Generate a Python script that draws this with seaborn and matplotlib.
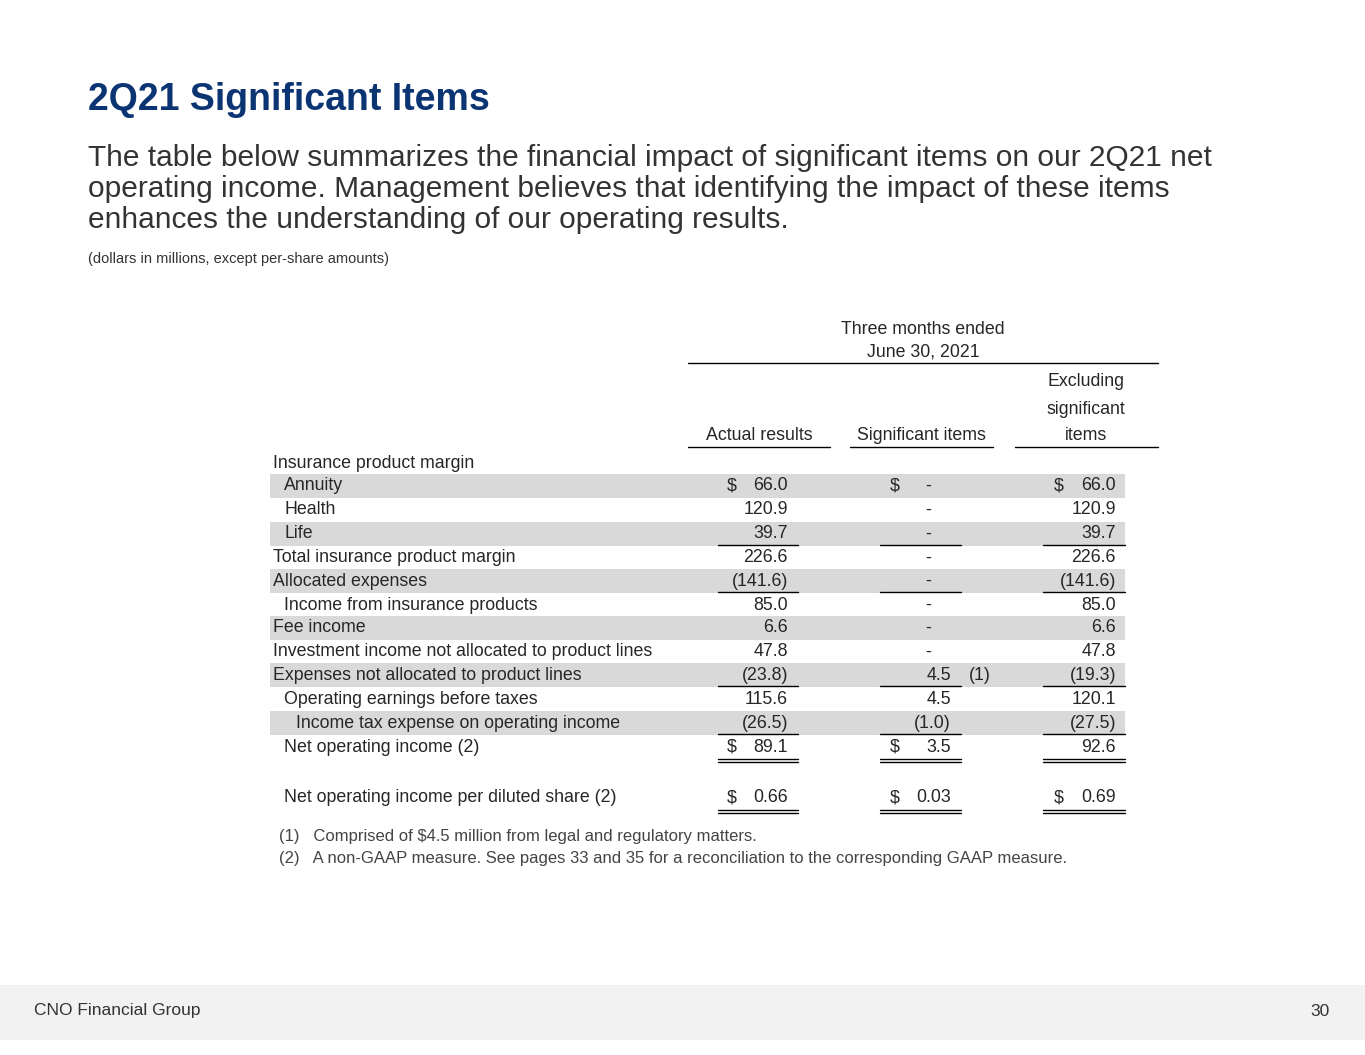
import matplotlib
matplotlib.use("Agg")
import matplotlib.pyplot as plt
import seaborn as sns

sns.set_theme(style="white")
plt.rcParams['font.family'] = ['Liberation Sans', 'DejaVu Sans']

# table data
row_labels = ["Insurance product margin", "Annuity", "Health", "Life",
              "Total insurance product margin", "Allocated expenses",
              "Income from insurance products", "Fee income",
              "Investment income not allocated to product lines",
              "Expenses not allocated to product lines",
              "Operating earnings before taxes",
              "Income tax expense on operating income",
              "Net operating income (2)",
              "Net operating income per diluted share (2)"]
actual = ["", "66.0", "120.9", "39.7", "226.6", "(141.6)", "85.0", "6.6", "47.8",
          "(23.8)", "115.6", "(26.5)", "89.1", "0.66"]
significant = ["", "-", "-", "-", "-", "-", "-", "-", "-", "4.5", "4.5", "(1.0)", "3.5", "0.03"]
excluding = ["", "66.0", "120.9", "39.7", "226.6", "(141.6)", "85.0", "6.6", "47.8",
             "(19.3)", "120.1", "(27.5)", "92.6", "0.69"]
# rows with a dollar sign, per column
dollar_rows = [[1, 12, 13], [1, 12, 13], [1, 13]]
shaded = [1, 3, 5, 7, 9, 11]
single_ul = [3, 5, 9, 11]
double_ul = [12, 13]
indent = {1: 284, 2: 284, 3: 284, 6: 284, 10: 284, 11: 296, 12: 284, 13: 284}
row_y = [463, 486, 510, 534, 558, 581, 605, 628, 652, 675, 699, 723, 747, 798]

fig = plt.figure(figsize=(13.65, 10.55), dpi=100)
ax = fig.add_axes([0, 0, 1, 1])
ax.set_xlim(0, 1365)
ax.set_ylim(1055, 0)
ax.axis("off")

navy = "#0B3473"
ax.text(88, 100, "2Q21 Significant Items", fontsize=27, fontweight="bold", color=navy, va="center")
ax.text(88, 189, "The table below summarizes the financial impact of significant items on our 2Q21 net\n"
        "operating income. Management believes that identifying the impact of these items\n"
        "enhances the understanding of our operating results.",
        fontsize=21.5, color="#333333", va="center", linespacing=1.12)
ax.text(88, 259, "(dollars in millions, except per-share amounts)", fontsize=10.5, color="#333333", va="center")

fs = 12.8
# headers
ax.text(923, 329, "Three months ended", fontsize=fs, ha="center", va="center")
ax.text(923, 352, "June 30, 2021", fontsize=fs, ha="center", va="center")
ax.plot([688, 1158], [363, 363], color="black", lw=1)
ax.text(759, 436, "Actual results", fontsize=fs, ha="center", va="center")
ax.text(921, 436, "Significant items", fontsize=fs, ha="center", va="center")
for yy, t in zip([381, 409, 436], ["Excluding", "significant", "items"]):
    ax.text(1086, yy, t, fontsize=fs, ha="center", va="center")
for x0, x1 in [(688, 830), (850, 993), (1015, 1158)]:
    ax.plot([x0, x1], [447, 447], color="black", lw=1)

cols = [(actual, 732, 788, 718, 798), (significant, 895, 951, 880, 961),
        (excluding, 1059, 1116, 1043, 1125)]
for i, (lab, y) in enumerate(zip(row_labels, row_y)):
    if i in shaded:
        ax.fill_between([270, 1125], y - 12, y + 12, color="#d9d9d9", lw=0)
    ax.text(indent.get(i, 273), y, lab, fontsize=fs, va="center")
    for c, (vals, xd, xr, u0, u1) in enumerate(cols):
        v = vals[i]
        if v == "-":
            ax.text(xr - 23, y, v, fontsize=fs, ha="center", va="center")
        elif v:
            ax.text(xr, y, v, fontsize=fs, ha="right", va="center")
        if i in dollar_rows[c]:
            ax.text(xd, y, "$", fontsize=fs, ha="center", va="center")
        if i in single_ul:
            ax.plot([u0, u1], [y + 11, y + 11], color="black", lw=1)
        if i in double_ul:
            ax.plot([u0, u1], [y + 12, y + 12], color="black", lw=1)
            ax.plot([u0, u1], [y + 15, y + 15], color="black", lw=1)
ax.text(980, 675, "(1)", fontsize=fs, ha="center", va="center")

notes = ["(1)   Comprised of $4.5 million from legal and regulatory matters.",
         "(2)   A non-GAAP measure. See pages 33 and 35 for a reconciliation to the corresponding GAAP measure."]
for yy, t in zip([837, 858], notes):
    ax.text(279, yy, t, fontsize=12, color="#444444", va="center")

ax.fill_between([0, 1365], 985, 1040, color="#f2f2f2", lw=0)
ax.text(34, 1011, "CNO Financial Group", fontsize=12.5, color="#333333", va="center")
ax.text(1330, 1011, "30", fontsize=12.5, color="#333333", va="center", ha="right")

fig.savefig("out.png", dpi=100, facecolor="white")
